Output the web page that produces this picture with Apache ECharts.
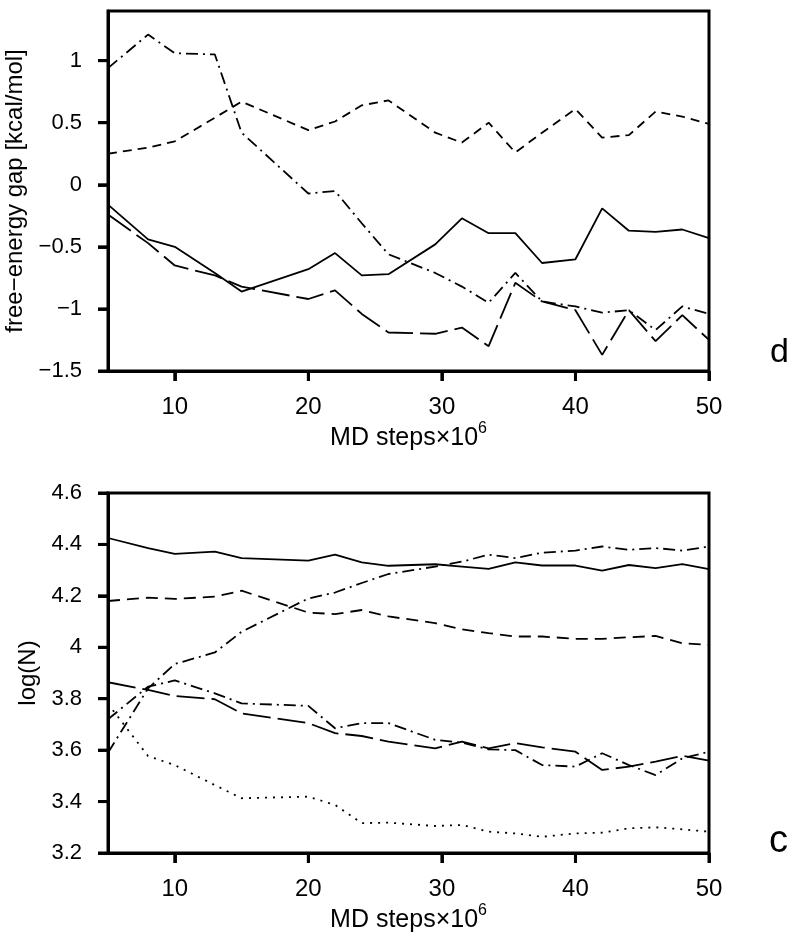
<!DOCTYPE html>
<html>
<head>
<meta charset="utf-8">
<script src="https://cdn.jsdelivr.net/npm/echarts@6/dist/echarts.min.js"></script>
<style>
html,body{margin:0;padding:0;background:#fff;}
#chart{width:800px;height:944px;}
</style>
</head>
<body>
<div id="chart"></div>
<script>
// MD steps (x 10^6) shared by all curves
const mdSteps = [5, 8, 10, 13, 15, 20, 22, 24, 26, 29.5, 31.5, 33.5, 35.5, 37.5, 40, 42, 44, 46, 48, 50];

// panel d : free-energy gap [kcal/mol]
const gapSolid    = [-0.16, -0.44, -0.50, -0.71, -0.86, -0.68, -0.55, -0.73, -0.72, -0.48, -0.27, -0.39, -0.39, -0.63, -0.60, -0.19, -0.37, -0.38, -0.36, -0.43];
const gapLongDash = [-0.24, -0.47, -0.65, -0.73, -0.82, -0.92, -0.85, -1.04, -1.19, -1.20, -1.15, -1.30, -0.79, -0.94, -1.01, -1.37, -1.01, -1.26, -1.05, -1.25];
const gapDash     = [0.25, 0.30, 0.35, 0.54, 0.67, 0.44, 0.51, 0.64, 0.68, 0.42, 0.34, 0.50, 0.26, 0.42, 0.61, 0.38, 0.40, 0.59, 0.55, 0.49];
const gapDashDot  = [0.94, 1.21, 1.06, 1.05, 0.42, -0.07, -0.05, -0.31, -0.56, -0.71, -0.82, -0.95, -0.71, -0.94, -0.98, -1.03, -1.01, -1.17, -0.98, -1.04];

// panel c : log(N)
const logSolid      = [4.425, 4.386, 4.363, 4.372, 4.347, 4.337, 4.360, 4.330, 4.317, 4.323, 4.314, 4.305, 4.330, 4.318, 4.318, 4.298, 4.320, 4.308, 4.323, 4.304];
const logDash       = [4.180, 4.193, 4.188, 4.197, 4.220, 4.135, 4.129, 4.145, 4.120, 4.094, 4.070, 4.055, 4.042, 4.042, 4.033, 4.033, 4.039, 4.044, 4.016, 4.009];
const logDashDotUp  = [3.590, 3.840, 3.935, 3.980, 4.060, 4.190, 4.213, 4.250, 4.285, 4.314, 4.333, 4.360, 4.347, 4.368, 4.376, 4.392, 4.379, 4.386, 4.376, 4.392];
const logLongDash   = [3.864, 3.834, 3.811, 3.798, 3.743, 3.705, 3.666, 3.655, 3.633, 3.607, 3.633, 3.607, 3.627, 3.611, 3.594, 3.523, 3.536, 3.555, 3.578, 3.559];
const logDashDotLow = [3.720, 3.847, 3.871, 3.821, 3.782, 3.772, 3.685, 3.705, 3.705, 3.640, 3.629, 3.603, 3.600, 3.542, 3.536, 3.588, 3.542, 3.503, 3.568, 3.594];
const logDotted     = [3.780, 3.577, 3.542, 3.464, 3.413, 3.419, 3.387, 3.316, 3.318, 3.305, 3.309, 3.283, 3.276, 3.263, 3.276, 3.279, 3.296, 3.300, 3.292, 3.283];

// tick values
const xTicks = [10, 20, 30, 40, 50];
const gapTicks = [-1.5, -1, -0.5, 0, 0.5, 1];
const logTicks = [3.2, 3.4, 3.6, 3.8, 4, 4.2, 4.4, 4.6];

const X_MIN = 5, X_MAX = 50;
const GAP_MIN = -1.5, GAP_MAX = 1.4;
const LOG_MIN = 3.2, LOG_MAX = 4.6;

const FONT = 'Liberation Sans, Arial, Helvetica, sans-serif';
const pair = ys => ys.map((y, i) => [mdSteps[i], y]);
const fmtMinus = v => String(+(+v).toFixed(2)).replace('-', '\u2212');
const TICK_LEN = 10;

const DASH = {
  solid: 'solid',
  shortDash: [9, 6],
  dash: [12, 7],
  longDash: [28, 7],
  dashDot: [12, 5, 2, 5],
  dot: [2, 6]
};

function line(name, data, type, grid) {
  return {
    name, type: 'line', xAxisIndex: grid, yAxisIndex: grid,
    data: pair(data), symbol: 'none',
    lineStyle: { color: '#000', width: 1.8, type: type }
  };
}

function xAxis(gridIndex) {
  return {
    type: 'value', gridIndex, min: X_MIN, max: X_MAX,
    axisLine: { show: true, onZero: false, lineStyle: { color: '#000', width: 3 } },
    axisTick: { show: true, length: TICK_LEN, lineStyle: { color: '#111', width: 3 }, customValues: xTicks },
    axisLabel: { customValues: xTicks, color: '#000', fontFamily: FONT, fontSize: 24, margin: 24 },
    splitLine: { show: false },
    name: '{a|MD steps\u00d710}{s|6}',
    nameLocation: 'middle', nameGap: 50,
    nameTextStyle: {
      color: '#000', fontFamily: FONT,
      rich: {
        a: { fontSize: 25, fontFamily: FONT, color: '#000', verticalAlign: 'bottom', lineHeight: 30 },
        s: { fontSize: 16, fontFamily: FONT, color: '#000', verticalAlign: 'top', lineHeight: 30, padding: [0, 0, 12, 0] }
      }
    }
  };
}

function yAxis(gridIndex, min, max, ticks, name, nameGap) {
  return {
    type: 'value', gridIndex, min, max,
    axisLine: { show: true, onZero: false, lineStyle: { color: '#000', width: 3 } },
    axisTick: { show: true, length: TICK_LEN, lineStyle: { color: '#111', width: 3 }, customValues: ticks },
    axisLabel: { customValues: ticks, color: '#000', fontFamily: FONT, fontSize: 22, margin: 26, formatter: fmtMinus },
    splitLine: { show: false },
    name, nameLocation: 'middle', nameGap,
    nameTextStyle: { color: '#000', fontFamily: FONT, fontSize: 24 }
  };
}

const chart = echarts.init(document.getElementById('chart'));
chart.setOption({
  animation: false,
  grid: [
    { left: 108, width: 601, top: 11, height: 360, show: true, borderColor: '#000', borderWidth: 3, outerBoundsMode: 'none', containLabel: false },
    { left: 108, width: 601, top: 493, height: 360, show: true, borderColor: '#000', borderWidth: 3, outerBoundsMode: 'none', containLabel: false }
  ],
  xAxis: [xAxis(0), xAxis(1)],
  yAxis: [
    yAxis(0, GAP_MIN, GAP_MAX, gapTicks, 'free\u2212energy gap [kcal/mol]', 72),
    yAxis(1, LOG_MIN, LOG_MAX, logTicks, 'log(N)', 64)
  ],
  series: [
    line('gap solid', gapSolid, DASH.solid, 0),
    line('gap long dash', gapLongDash, DASH.longDash, 0),
    line('gap dash', gapDash, DASH.shortDash, 0),
    line('gap dash-dot', gapDashDot, DASH.dashDot, 0),
    line('logN solid', logSolid, DASH.solid, 1),
    line('logN dash', logDash, DASH.dash, 1),
    line('logN dash-dot up', logDashDotUp, DASH.dashDot, 1),
    line('logN long dash', logLongDash, DASH.longDash, 1),
    line('logN dash-dot low', logDashDotLow, DASH.dashDot, 1),
    line('logN dotted', logDotted, DASH.dot, 1)
  ]
});

// outward tick marks, positioned through the chart's own scales
const tickEls = [];
function addTicks(gridIndex, yMin, yTicks) {
  xTicks.forEach(v => {
    const p = chart.convertToPixel({ gridIndex }, [v, yMin]);
    if (p) tickEls.push({ type: 'line', z: 100, silent: true,
      shape: { x1: p[0], y1: p[1], x2: p[0], y2: p[1] + TICK_LEN },
      style: { stroke: '#000', lineWidth: 3 } });
  });
  yTicks.forEach(v => {
    const p = chart.convertToPixel({ gridIndex }, [X_MIN, v]);
    if (p) tickEls.push({ type: 'line', z: 100, silent: true,
      shape: { x1: p[0] - TICK_LEN, y1: p[1], x2: p[0], y2: p[1] },
      style: { stroke: '#000', lineWidth: 3 } });
  });
}
addTicks(0, GAP_MIN, gapTicks);
addTicks(1, LOG_MIN, logTicks);

chart.setOption({
  graphic: [
    { type: 'text', left: 770, top: 336, z: 100, style: { text: 'd', font: '34px ' + FONT, fill: '#000' } },
    { type: 'text', left: 769, top: 823, z: 100, style: { text: 'c', font: '38px ' + FONT, fill: '#000' } }
  ].concat(tickEls)
});
</script>
</body>
</html>
